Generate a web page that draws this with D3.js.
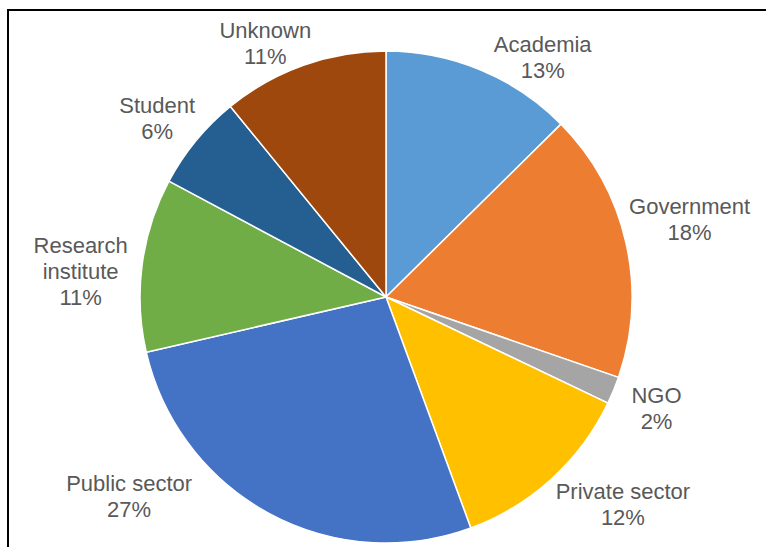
<!DOCTYPE html>
<html>
<head>
<meta charset="utf-8">
<script src="https://cdn.jsdelivr.net/npm/d3@7"></script>
<style>
  body { margin: 0; background: #fff; }
  svg { display: block; }
</style>
</head>
<body>
<div id="canvas"></div>
<script>
// Data (shares; labels show rounded percent)
var categories = ["Academia", "Government", "NGO", "Private sector", "Public sector", "Research institute", "Student", "Unknown"]
var shares = [12.6, 17.7, 1.8, 12.3, 27.0, 11.4, 6.3, 10.9]
var label_lines = [["Academia"], ["Government"], ["NGO"], ["Private sector"], ["Public sector"], ["Research", "institute"], ["Student"], ["Unknown"]]

// Display variables
var total_width = 766, total_height = 547
var cx = 386, cy = 297, radius = 246
var label_radius = 300
var colours = ["#5B9BD5", "#ED7D31", "#A5A5A5", "#FFC000", "#4472C4", "#70AD47", "#255E91", "#9E480E"]
// Excel "best fit" puts labels off the bisector, so nudge each one
var label_nudge = [[41, 37], [11, -11], [-7, -3], [35, -15], [-114, -64], [-8, 14], [3, 12], [-20, 29]]
var font_size = 22, line_height = 26

var svg = d3.select("#canvas").append("svg").attr("width", total_width).attr("height", total_height)

// Frame (only left and top edges are visible in the crop)
svg.append("line").attr("x1", 8).attr("y1", 10).attr("x2", total_width).attr("y2", 10)
    .attr("stroke", "#000").attr("stroke-width", 2)
svg.append("line").attr("x1", 8).attr("y1", 9).attr("x2", 8).attr("y2", total_height)
    .attr("stroke", "#000").attr("stroke-width", 2)

var g = svg.append("g").attr("transform", "translate(" + cx + "," + cy + ")")

var total = d3.sum(shares)
var pie = d3.pie().sort(null).value(d => d)
var arcs = pie(shares)
var arc = d3.arc().innerRadius(0).outerRadius(radius)
var label_arc = d3.arc().innerRadius(label_radius).outerRadius(label_radius)

g.selectAll(".slice")
    .data(arcs)
    .enter().append("path")
    .attr("class", "slice")
    .attr("d", arc)
    .attr("fill", (d, i) => colours[i])
    .attr("stroke", "#fff")
    .attr("stroke-width", 1.5)
    .attr("stroke-linejoin", "round")

// Labels: category name line(s) then percent
var labels = g.selectAll(".label")
    .data(arcs)
    .enter().append("text")
    .attr("class", "label")
    .attr("text-anchor", "middle")
    .attr("font-family", "Arial, 'Liberation Sans', sans-serif")
    .attr("font-size", font_size)
    .attr("fill", "#595959")
    .attr("transform", (d, i) => {
        var c = label_arc.centroid(d)
        return "translate(" + (c[0] + label_nudge[i][0]) + "," + (c[1] + label_nudge[i][1]) + ")"
    })

labels.each(function(d, i) {
    var lines = label_lines[i].concat([Math.round(d.value / total * 100) + "%"])
    var first = -(lines.length - 1) * line_height / 2
    var t = d3.select(this)
    lines.forEach((s, j) => {
        t.append("tspan").attr("x", 0).attr("y", first + j * line_height).attr("dy", "0.35em").text(s)
    })
})
</script>
</body>
</html>
